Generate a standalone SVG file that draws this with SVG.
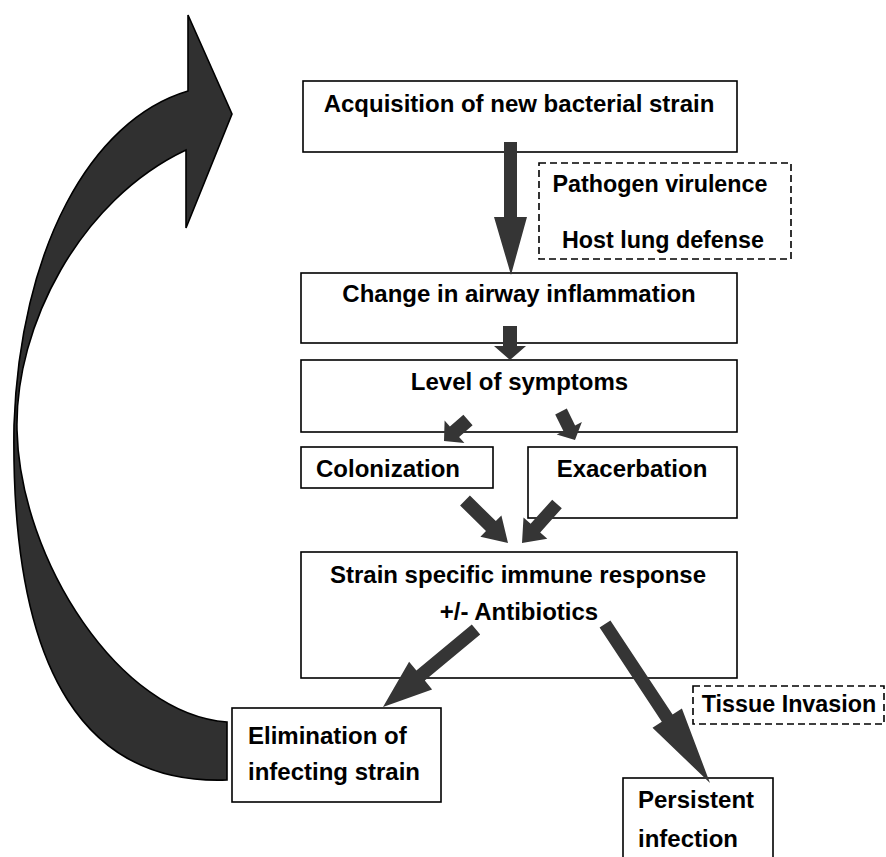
<svg xmlns="http://www.w3.org/2000/svg" width="886" height="857" viewBox="0 0 886 857">
<style>
.box{fill:#fff;stroke:#000;stroke-width:1.6}
.dash{fill:#fff;stroke:#000;stroke-width:1.6;stroke-dasharray:7,4}
.t{font-family:"Liberation Sans",Arial,sans-serif;font-weight:bold;font-size:24px;fill:#000}
.s{font-size:23.3px}
.c{text-anchor:middle}
.arr{fill:#353535;stroke:none}
.curve{fill:#303030;stroke:#000;stroke-width:1.6;stroke-linejoin:miter}
</style>
<rect width="886" height="857" fill="#fff"/>
<g id="acquisition"><rect class="box" x="303" y="81" width="434" height="71"/><text class="t c" x="519" y="112">Acquisition of new bacterial strain</text></g>
<g id="factors"><rect class="dash" x="539" y="163" width="252" height="96"/><text class="t s c" x="660" y="192">Pathogen virulence</text><text class="t s c" x="663" y="248">Host lung defense</text></g>
<g id="inflammation"><rect class="box" x="301" y="273" width="436" height="70"/><text class="t c" x="519" y="302">Change in airway inflammation</text></g>
<g id="symptoms"><rect class="box" x="301" y="360" width="436" height="72"/><text class="t c" x="519.5" y="390">Level of symptoms</text></g>
<g id="colonization"><rect class="box" x="301" y="447" width="192" height="41"/><text class="t c" x="388" y="477">Colonization</text></g>
<g id="exacerbation"><rect class="box" x="528" y="447" width="209" height="71"/><text class="t c" x="632" y="477">Exacerbation</text></g>
<g id="immune"><rect class="box" x="301" y="552" width="436" height="126"/><text class="t c" x="518" y="583">Strain specific immune response</text><text class="t c" x="519" y="620">+/- Antibiotics</text></g>
<g id="elimination"><rect class="box" x="232" y="708" width="209" height="94"/><text class="t" x="248" y="744">Elimination of</text><text class="t" x="248" y="780">infecting strain</text></g>
<g id="invasion"><rect class="dash" x="693" y="686" width="191" height="38"/><text class="t s c" x="789" y="712">Tissue Invasion</text></g>
<g id="persistent"><rect class="box" x="623" y="778" width="150" height="100"/><text class="t" x="638" y="808">Persistent</text><text class="t" x="638" y="847">infection</text></g>
<g id="connectors">
<path class="curve" d="M188,91 L188,15 L232,114 L186,228 L186,150 C80,200 14.6,326 17,430 C20,560 120,715 227,722 L227,780 C90,785 10,680 14,425 C20,250 90,120 188,91 Z"/>
<polygon class="arr" points="504,142 517,142 517,217 527,217 511,275 494,217 504,217"/>
<polygon class="arr" points="503,326 517,326 517,346 526,346 510,360 494,346 503,346"/>
<polygon class="arr" points="463.4,414.7 472.6,425.3 459.1,437.1 464.4,443.1 444,441 444.6,420.5 449.9,426.5"/>
<polygon class="arr" points="555.2,414.4 566.8,408.6 575.1,425.4 581.9,422.1 575,440 556.7,434.5 563.5,431.2"/>
<polygon class="arr" points="469.9,495.5 495.8,521.1 501.4,515.4 508,543 480.4,536.8 486,531.1 460.1,505.5"/>
<polygon class="arr" points="552.2,499.7 561.8,508.3 540.2,532.4 547.3,538.8 522,543 523.5,517.4 530.6,523.8"/>
<polygon class="arr" points="471.8,624.5 480.2,634.5 424.8,680.6 432.1,689.4 383,707 409.1,661.8 416.4,670.6"/>
<polygon class="arr" points="610.4,620.4 672.6,714.5 681.9,708.4 710,783 652.5,727.8 661.8,721.7 599.6,627.6"/>
</g>
</svg>
